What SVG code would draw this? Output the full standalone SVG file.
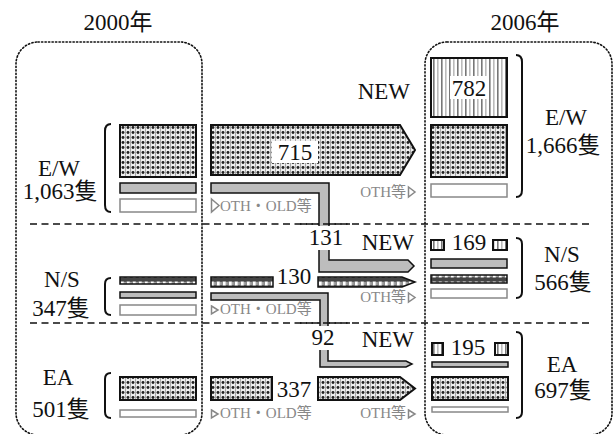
<svg xmlns="http://www.w3.org/2000/svg" width="615" height="434" viewBox="0 0 615 434">
<defs>
<pattern id="dots" width="5" height="5" patternUnits="userSpaceOnUse">
<rect width="5" height="5" fill="#eeeeee"/>
<rect x="0" y="0" width="1" height="5" fill="#a8a8a8"/>
<circle cx="3" cy="2.5" r="1.45" fill="#222"/>
</pattern>
<pattern id="stripes" width="8" height="10" patternUnits="userSpaceOnUse">
<rect width="8" height="10" fill="#fff"/>
<rect x="1" y="0" width="1.6" height="10" fill="#777"/>
<rect x="5" y="0" width="1.6" height="10" fill="#bbb"/>
</pattern>
<pattern id="chain" width="6" height="8" patternUnits="userSpaceOnUse">
<rect width="6" height="8" fill="#444"/>
<rect x="0.6" y="1.5" width="3.2" height="4" fill="#fff"/>
<rect x="4.2" y="1.8" width="1.5" height="3.4" fill="#bbb"/>
</pattern>
</defs>
<style>
.t{font-family:"Liberation Serif","Noto Sans CJK JP",serif;font-size:23px;fill:#111;text-anchor:middle}
.e{text-anchor:end}
.s{font-family:"Liberation Serif","Noto Sans CJK JP",serif;font-size:15px;fill:#888}
.frame{fill:none;stroke:#111;stroke-width:1.6;stroke-dasharray:1.3 2.2;stroke-linecap:round}
.dash{fill:none;stroke:#111;stroke-width:1.6;stroke-dasharray:7 4.5}
.dot{fill:url(#dots);stroke:#111;stroke-width:2}
.str{fill:url(#stripes);stroke:#111;stroke-width:2}
.chn{fill:url(#chain);stroke:#111;stroke-width:1.5}
.gry{fill:#bdbdbd;stroke:#111;stroke-width:1.5}
.wht{fill:#fff;stroke:#888;stroke-width:1.5}
.br{fill:none;stroke:#111;stroke-width:2}
.tri{fill:none;stroke:#888;stroke-width:1.5}
.trif{fill:#fff;stroke:#888;stroke-width:1.5}
.bg{fill:#fff}
</style>
<rect width="615" height="434" fill="#fff"/>

<g id="frames">
<rect class="frame" x="16" y="42" width="186" height="393" rx="22"/>
<rect class="frame" x="425" y="42" width="187" height="393" rx="22"/>
<line class="dash" x1="30" y1="224" x2="590" y2="224"/>
<line class="dash" x1="30" y1="323" x2="590" y2="323"/>
<text class="t" x="118" y="30">2000年</text>
<text class="t" x="525" y="30">2006年</text>
</g>

<g id="ew2000">
<path class="br" d="M111,124 Q105,124 105,131 V205 Q105,212 111,212"/>
<text class="t" x="59" y="176">E/W</text>
<text class="t" x="60" y="199">1,063隻</text>
<rect class="dot" x="120" y="125" width="76" height="52"/>
<rect class="gry" x="120" y="183" width="76" height="10"/>
<rect class="wht" x="120" y="199" width="76" height="13"/>
</g>

<g id="ns2000">
<path class="br" d="M111,278 Q105,278 105,284 V309 Q105,315 111,315"/>
<text class="t" x="62" y="287">N/S</text>
<text class="t" x="61" y="316">347隻</text>
<rect class="chn" x="120" y="277" width="76" height="7"/>
<rect class="gry" x="120" y="292" width="76" height="6"/>
<rect class="wht" x="120" y="305" width="76" height="10"/>
</g>

<g id="ea2000">
<path class="br" d="M111,373 Q105,373 105,379 V412 Q105,418 111,418"/>
<text class="t" x="58" y="385">EA</text>
<text class="t" x="61" y="417">501隻</text>
<rect class="dot" x="120" y="377" width="76" height="23"/>
<rect class="wht" x="120" y="410" width="76" height="7"/>
</g>

<g id="connectors">
<path class="dot" d="M211,125 H400 L415,150 L400,175 H211 Z"/>
<rect class="bg" x="272" y="141" width="46" height="22"/>
<text class="t" x="295" y="160">715</text>
<polygon class="tri" points="211.5,199 219,205.5 211.5,212"/>
<text class="s" x="220" y="211">OTH・OLD等</text>
<text class="s e" x="406" y="197">OTH等</text>
<polygon class="tri" points="408.5,187 415,192 408.5,197"/>
<path class="gry" d="M211,183 H329 V260 H408 L414,266 L408,272 H319 V193 H211 Z"/>
<rect class="bg" x="308" y="226" width="36" height="24"/>
<line class="dash" x1="300" y1="224" x2="350" y2="224"/>
<text class="t" x="326" y="245">131</text>
<text class="t e" x="414" y="250">NEW</text>
<rect class="chn" x="211" y="277" width="62" height="10"/>
<text class="t" x="294" y="284">130</text>
<path class="chn" d="M318,277 H402 L415,282 L402,287 H318 Z"/>
<text class="s e" x="406" y="302">OTH等</text>
<polygon class="tri" points="408.5,293 415,297.5 408.5,302"/>
<polygon class="trif" points="211.5,306 218,310 211.5,314"/>
<text class="s" x="220" y="314">OTH・OLD等</text>
<path class="gry" d="M211,293 H328 V361 H406 L412,364 L406,367 H320 V300 H211 Z"/>
<rect class="bg" x="308" y="326" width="32" height="24"/>
<line class="dash" x1="300" y1="323" x2="350" y2="323"/>
<text class="t" x="323" y="345">92</text>
<text class="t e" x="414" y="347">NEW</text>
<rect class="dot" x="211" y="377" width="61" height="23"/>
<text class="t" x="294" y="397">337</text>
<path class="dot" d="M318,377 H400 L415,388.5 L400,400 H318 Z"/>
<polygon class="trif" points="211.5,410 218,414 211.5,418"/>
<text class="s" x="220" y="418">OTH・OLD等</text>
<text class="s e" x="406" y="418">OTH等</text>
<polygon class="trif" points="408.5,410 415,414 408.5,418"/>
<text class="t e" x="410" y="99">NEW</text>
</g>

<g id="ew2006">
<rect class="str" x="431" y="58" width="76" height="59"/>
<rect class="bg" x="450" y="76" width="38" height="23"/>
<text class="t" x="469" y="96">782</text>
<rect class="dot" x="431" y="125" width="76" height="52"/>
<rect class="wht" x="431" y="184" width="76" height="13"/>
<path class="br" d="M516,55 Q522,55 522,62 V190 Q522,197 516,197"/>
<text class="t" x="566" y="125">E/W</text>
<text class="t" x="563" y="153">1,666隻</text>
</g>

<g id="ns2006">
<rect class="str" x="431" y="240" width="13" height="10"/>
<text class="t" x="469" y="250">169</text>
<rect class="str" x="493" y="240" width="14" height="10"/>
<rect class="gry" x="431" y="259" width="76" height="9"/>
<rect class="chn" x="431" y="275" width="76" height="8"/>
<rect class="wht" x="431" y="289" width="76" height="9"/>
<path class="br" d="M516,238 Q522,238 522,244 V292 Q522,298 516,298"/>
<text class="t" x="562" y="262">N/S</text>
<text class="t" x="563" y="290">566隻</text>
</g>

<g id="ea2006">
<rect class="str" x="432" y="343" width="11" height="12"/>
<text class="t" x="468" y="355">195</text>
<rect class="str" x="495" y="343" width="13" height="12"/>
<rect class="gry" x="432" y="362" width="76" height="5"/>
<rect class="dot" x="432" y="377" width="76" height="23"/>
<rect class="wht" x="432" y="407" width="76" height="5"/>
<path class="br" d="M516,332 Q522,332 522,338 V412 Q522,418 516,418"/>
<text class="t" x="562" y="372">EA</text>
<text class="t" x="563" y="398">697隻</text>
</g>
</svg>
